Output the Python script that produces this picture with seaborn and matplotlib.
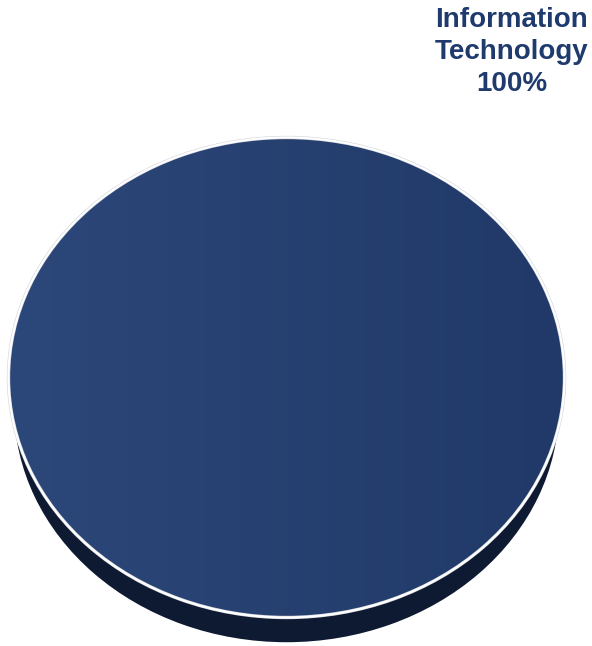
import numpy as np
import matplotlib
matplotlib.use("Agg")
import matplotlib.pyplot as plt
from matplotlib.patches import PathPatch
import seaborn as sns

# Sector allocation
sectors = ["Information Technology"]
shares = [100]
labels = ["Information\nTechnology\n100%"]

sns.set_theme(style="white")
plt.rcParams["font.family"] = ["Liberation Sans", "DejaVu Sans"]

W, H = 592, 646
fig = plt.figure(figsize=(W / 100, H / 100), dpi=100)
ax = fig.add_axes([0, 0, 1, 1])

# data units: one unit = horizontal / vertical radius of the top face
cx, cy, rx, ry = 286.5, 377.5, 278.0, 240.0

# side (depth) of the disc
side_wedges, _ = ax.pie(shares, radius=0.98, center=(0, -0.123), startangle=90,
                        counterclock=False, colors=["#0e1a31"],
                        wedgeprops=dict(linewidth=0, zorder=1))

# top face
top_wedges, _ = ax.pie(shares, radius=1.0, center=(0, 0), startangle=90,
                       counterclock=False, colors=["#27416f"],
                       wedgeprops=dict(linewidth=0, zorder=2))

# subtle horizontal shading on the top face
grad = np.linspace(0, 1, 256)[None, :]
c0 = np.array([44, 71, 121]) / 255
c1 = np.array([32, 57, 104]) / 255
img = c0[None, None, :] * (1 - grad[..., None]) + c1[None, None, :] * grad[..., None]
for w in top_wedges:
    im = ax.imshow(img, extent=(-1, 1, -1, 1), aspect="auto", zorder=2.5,
                   interpolation="bilinear")
    im.set_clip_path(w)
    for col, lw in (("#d4d8de", 2.4), ("white", 1.5)):
        ax.add_patch(PathPatch(w.get_path(), transform=w.get_transform(),
                               fill=False, ec=col, lw=lw, zorder=4))

ax.set_aspect("auto")
ax.set_xlim(-cx / rx, (W - cx) / rx)
ax.set_ylim((cy - H) / ry, cy / ry)
ax.axis("off")

fig.text(511.5 / W, 1 - 7 / H, labels[0], ha="center", va="top",
         fontsize=20, fontweight="bold", color="#1f3a6d", linespacing=1.3)

fig.savefig("out.png", dpi=100, facecolor="white")
